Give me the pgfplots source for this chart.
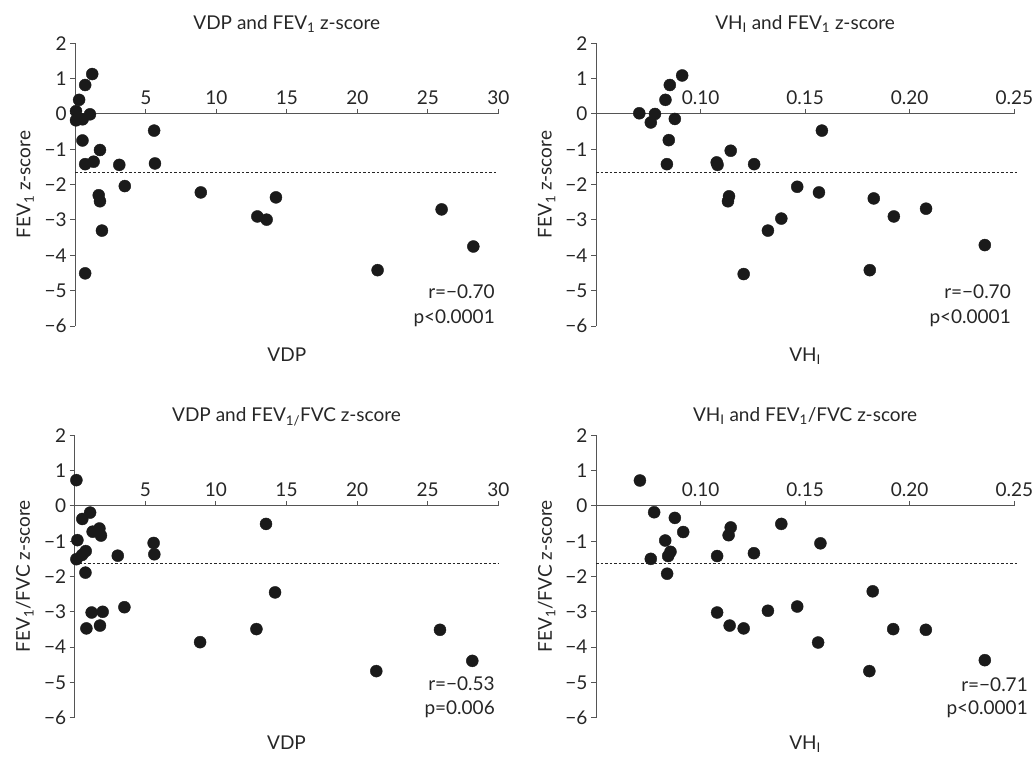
\documentclass[border=0pt]{standalone}
\usepackage{fontspec}
\setmainfont{Lato}
\usepackage{pgfplots}
\pgfplotsset{compat=1.18}

\definecolor{axgray}{HTML}{555555}
\definecolor{txt}{HTML}{262626}
\definecolor{dot}{HTML}{1A1A1A}

\newcommand{\fs}{\fontsize{19}{22}\selectfont}

\pgfplotsset{
  panel/.style={
    scale only axis,
    axis x line=middle, axis y line=left,
    axis line style={-, draw=axgray, line width=1pt},
    every tick/.style={draw=axgray, line width=1pt},
    major tick length=5pt,
    xtick align=inside, ytick align=outside,
    ymin=-6, ymax=2, ytick={-6,...,2},
    yticklabels={−6,−5,−4,−3,−2,−1,0,1,2},
    /pgf/number format/assume math mode=true,
    tick label style={font=\fs, text=txt},
    xticklabel style={anchor=south, yshift=5.5pt},
    clip=false,
    every axis y label/.style={at={(axis description cs:-0.118,0.5)}, rotate=90, anchor=center, font=\fs, text=txt},
    every axis x label/.style={at={(axis description cs:0.5,-0.124)}, anchor=base, font=\fs, text=txt},
    every axis title/.style={at={(axis description cs:0.5,1.0495)}, anchor=base, font=\fs, text=txt},
  },
  lowrow/.style={every axis x label/.style={at={(axis description cs:0.5,-0.112)}, anchor=base, font=\fs, text=txt}},
  vdp/.style={xmin=0, xmax=30, xtick={5,10,...,30},
    xticklabels={5,10,15,20,25,30}, xlabel={VDP}},
  vh/.style={xmin=0.05, xmax=0.25, xtick={0.10,0.15,0.20,0.25},
    xticklabels={0.10,0.15,0.20,0.25}, xlabel={VH\textsubscript{I}}},
  pts/.style={only marks, mark=*, mark size=6pt, draw=dot, fill=dot},
  lln/.style={draw=txt, line width=1pt, dash pattern=on 2.5pt off 2pt},
}

\begin{document}
\begin{tikzpicture}
\useasboundingbox (0,0) rectangle (1035pt,-757pt);

% VDP vs FEV1
\begin{axis}[panel, vdp, at={(75.3pt,-326pt)}, anchor=south west,
    width=423pt, height=282.7pt,
    title={VDP and FEV\textsubscript{1} z-score},
    ylabel={FEV\textsubscript{1} z-score}]
\addplot[lln] coordinates {(0,-1.645) (30,-1.645)};
\addplot[pts] coordinates {
  (1.20,1.13) (0.70,0.82) (0.27,0.40) (0.05,0.08) (0.05,-0.18) (0.52,-0.15)
  (1.04,-0.01) (0.51,-0.75) (0.70,-1.42) (1.30,-1.35) (1.75,-1.02) (3.12,-1.44)
  (3.51,-2.04) (5.59,-0.47) (5.65,-1.40) (1.66,-2.30) (1.75,-2.47) (1.89,-3.30)
  (0.70,-4.51) (8.90,-2.22) (12.91,-2.90) (13.57,-2.99) (14.23,-2.36)
  (21.44,-4.42) (25.98,-2.70) (28.23,-3.75)
};
\node[anchor=base east, font=\fs, text=txt] at (axis description cs:1,0.098) {r=−0.70};
\node[anchor=base east, font=\fs, text=txt] at (axis description cs:1,0.0096) {p<0.0001};
\end{axis}

% VHI vs FEV1
\begin{axis}[panel, vh, at={(596pt,-326pt)}, anchor=south west,
    width=418.3pt, height=282.7pt,
    title={VH\textsubscript{I} and FEV\textsubscript{1} z-score},
    ylabel={FEV\textsubscript{1} z-score}]
\addplot[lln] coordinates {(0.05,-1.645) (0.252,-1.645)};
\addplot[pts] coordinates {
  (0.0707,0.02) (0.0762,-0.24) (0.0782,0.00) (0.0832,0.40) (0.0853,0.82)
  (0.0912,1.09) (0.0877,-0.14) (0.0848,-0.74) (0.0839,-1.42) (0.1077,-1.37)
  (0.1081,-1.44) (0.1144,-1.04) (0.1256,-1.42) (0.1136,-2.33) (0.1131,-2.47)
  (0.1322,-3.30) (0.1386,-2.96) (0.1462,-2.06) (0.1566,-2.22) (0.1580,-0.47)
  (0.1206,-4.53) (0.1828,-2.39) (0.1924,-2.90) (0.2078,-2.68) (0.1809,-4.42)
  (0.2359,-3.71)
};
\node[anchor=base east, font=\fs, text=txt] at (axis description cs:1,0.098) {r=−0.70};
\node[anchor=base east, font=\fs, text=txt] at (axis description cs:1,0.0096) {p<0.0001};
\end{axis}

% VDP vs FEV1/FVC
\begin{axis}[panel, vdp, lowrow, at={(74.7pt,-717.7pt)}, anchor=south west,
    width=423.6pt, height=282.4pt,
    title={VDP and FEV\textsubscript{1/}FVC z-score},
    ylabel={FEV\textsubscript{1}/FVC z-score}]
\addplot[lln] coordinates {(0,-1.645) (30,-1.645)};
\addplot[pts] coordinates {
  (0.12,0.73) (0.19,-0.97) (0.12,-1.51) (0.54,-0.37) (1.09,-0.19) (0.52,-1.39)
  (0.78,-1.28) (0.76,-1.89) (1.27,-0.73) (1.75,-0.64) (1.86,-0.84) (1.20,-3.02)
  (1.98,-3.00) (0.83,-3.47) (1.79,-3.39) (3.05,-1.41) (3.52,-2.87) (5.59,-1.05)
  (5.64,-1.37) (8.88,-3.86) (13.55,-0.51) (14.19,-2.45) (12.87,-3.49)
  (21.36,-4.68) (25.87,-3.51) (28.16,-4.39)
};
\node[anchor=base east, font=\fs, text=txt] at (axis description cs:1,0.095) {r=−0.53};
\node[anchor=base east, font=\fs, text=txt] at (axis description cs:1,0.010) {p=0.006};
\end{axis}

% VHI vs FEV1/FVC
\begin{axis}[panel, vh, lowrow, at={(596pt,-717.7pt)}, anchor=south west,
    width=418.3pt, height=282.4pt,
    title={VH\textsubscript{I} and FEV\textsubscript{1}/FVC z-score},
    ylabel={FEV\textsubscript{1}/FVC z-score}]
\addplot[lln] coordinates {(0.05,-1.645) (0.252,-1.645)};
\addplot[pts] coordinates {
  (0.0710,0.72) (0.0762,-1.50) (0.0778,-0.18) (0.0831,-0.98) (0.0845,-1.42)
  (0.0856,-1.30) (0.0840,-1.92) (0.0877,-0.34) (0.0917,-0.74) (0.1079,-1.42)
  (0.1079,-3.02) (0.1134,-0.83) (0.1144,-0.61) (0.1139,-3.39) (0.1206,-3.47)
  (0.1255,-1.34) (0.1322,-2.97) (0.1386,-0.51) (0.1462,-2.85) (0.1573,-1.06)
  (0.1562,-3.87) (0.1823,-2.42) (0.1807,-4.68) (0.1921,-3.49) (0.2077,-3.51)
  (0.2359,-4.37)
};
\node[anchor=base east, font=\fs, text=txt, xshift=17pt] at (axis description cs:1,0.092) {r=−0.71};
\node[anchor=base east, font=\fs, text=txt, xshift=17pt] at (axis description cs:1,0.012) {p<0.0001};
\end{axis}
\end{tikzpicture}
\end{document}
